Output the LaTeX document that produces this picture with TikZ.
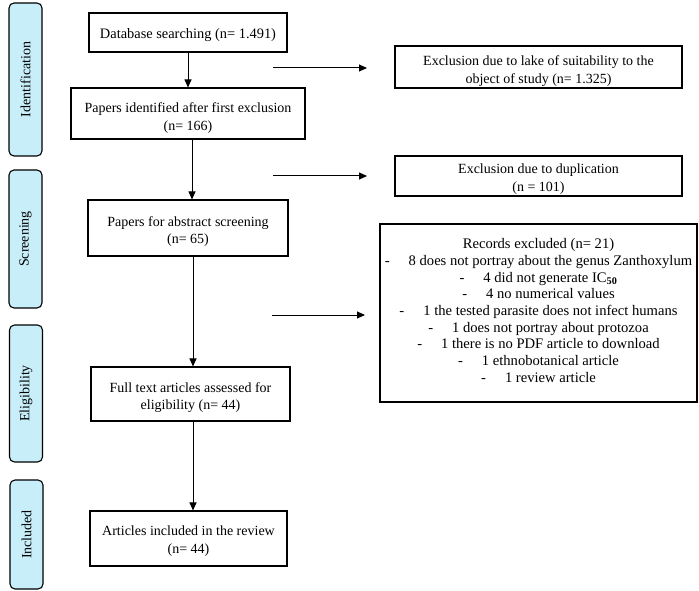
\documentclass[tikz,border=0pt]{standalone}
\usepackage{fontspec}
\setmainfont{Liberation Serif}
\usetikzlibrary{arrows.meta}
\definecolor{barblue}{HTML}{C8EEFA}
\begin{document}
\begin{tikzpicture}[x=1pt,y=-1pt,
  box/.style={draw, line width=1.1pt, inner sep=0pt},
  txt/.style={inner sep=0pt, align=center, font=\fontsize{14}{17.5}\selectfont},
  bar/.style={draw, line width=1.1pt, fill=barblue, rounded corners=5pt, inner sep=0pt, minimum width=33pt},
  barlabel/.style={rotate=90, font=\fontsize{14}{16}\selectfont},
  arr/.style={line width=1pt, -{Triangle[length=8pt,width=7pt]}}
]
\useasboundingbox (0,0) rectangle (699,591);
% side bars
\node[bar, minimum height=153pt] (b1) at (25.5,79.5) {};
\node[barlabel] (l1) at (b1.center) {Identification};
\node[bar, minimum height=138pt] (b2) at (25.5,239) {};
\node[barlabel] (l2) at (b2.center) {Screening};
\node[bar, minimum height=137pt] (b3) at (26,393.5) {};
\node[barlabel] (l3) at (b3.center) {Eligibility};
\node[bar, minimum height=109pt] (b4) at (26.5,534.5) {};
\node[barlabel] (l4) at (b4.center) {Included};
% main boxes
\node[box, minimum width=198pt, minimum height=39pt] (db) at (188,32.5) {};
\node[txt, font=\fontsize{14.4}{17.5}\selectfont] (dbt) at ([yshift=-3pt]db.center) {Database searching (n= 1.491)};
\node[box, minimum width=234pt, minimum height=51pt] (pid) at (188,113.5) {};
\node[txt] (pidt) at ([yshift=-4.5pt]pid.center) {Papers identified after first exclusion\\(n= 166)};
\node[box, minimum width=200pt, minimum height=56pt] (abs) at (188,228) {};
\node[txt] (abst) at ([yshift=-3.5pt]abs.center) {Papers for abstract screening\\(n= 65)};
\node[box, minimum width=199pt, minimum height=54pt] (full) at (190.5,394) {};
\node[txt] (fullt) at ([yshift=-3.5pt]full.center) {Full text articles assessed for\\eligibility (n= 44)};
\node[box, minimum width=197pt, minimum height=55pt] (inc) at (188.5,538.5) {};
\node[txt] (inct) at ([yshift=-2.5pt]inc.center) {Articles included in the review\\(n= 44)};
% exclusion boxes
\node[box, minimum width=287pt, minimum height=42pt] (ex1) at (538.5,67) {};
\node[txt] (ex1t) at ([yshift=-4pt]ex1.center) {Exclusion due to lake of suitability to the\\object of study (n= 1.325)};
\node[box, minimum width=287pt, minimum height=40pt] (ex2) at (538.5,176) {};
\node[txt] (ex2t) at ([yshift=-3pt]ex2.center) {Exclusion due to duplication\\(n = 101)};
\node[box, minimum width=317pt, minimum height=178pt] (rec) at (538.5,313) {};
\node[txt, font=\fontsize{14.6}{16.7}\selectfont, anchor=north] (rect) at ([yshift=-15pt]rec.north) {Records excluded (n= 21)\\
-\hspace{1.3em}8 does not portray about the genus Zanthoxylum\\
-\hspace{1.3em}4 did not generate IC\textsubscript{\textbf{50}}\\
-\hspace{1.3em}4 no numerical values\\
-\hspace{1.3em}1 the tested parasite does not infect humans\\
-\hspace{1.3em}1 does not portray about protozoa\\
-\hspace{1.3em}1 there is no PDF article to download\\
-\hspace{1.3em}1 ethnobotanical article\\
-\hspace{1.3em}1 review article};
% vertical arrows
\draw[arr] (db.south) -- (db.south |- pid.north);
\draw[arr] ([xshift=4pt]pid.south) -- ([xshift=4pt]pid.south |- abs.north);
\draw[arr] ([xshift=5pt]abs.south) -- ([xshift=5pt]abs.south |- full.north);
\draw[arr] ([xshift=4.5pt]inc.north |- full.south) -- ([xshift=4.5pt]inc.north);
% horizontal arrows
\coordinate (h1s) at (273,68); \coordinate (h1e) at (367,68);
\coordinate (h2s) at (273,176); \coordinate (h2e) at (367,176);
\coordinate (h3s) at (272,315); \coordinate (h3e) at (365,315);
\draw[arr] (h1s) -- (h1e);
\draw[arr] (h2s) -- (h2e);
\draw[arr] (h3s) -- (h3e);
\end{tikzpicture}
\end{document}
